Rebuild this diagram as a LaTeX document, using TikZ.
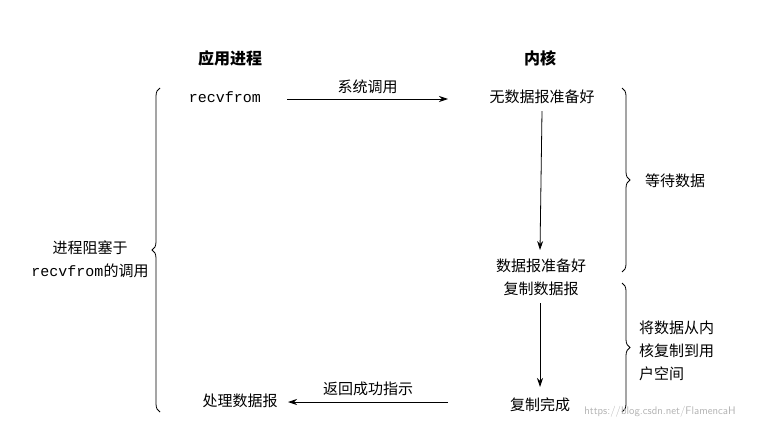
\documentclass[tikz,border=0pt]{standalone}
\usepackage{fontspec}
\newfontfamily\cjk{Noto Sans CJK SC}
\setmonofont{Liberation Mono}
\usetikzlibrary{decorations.pathreplacing,arrows.meta}
\begin{document}
\begin{tikzpicture}[x=1pt,y=-1pt,
  txt/.style={font=\cjk\fontsize{15}{23}\selectfont,inner sep=1pt},
  hd/.style={font=\cjk\bfseries\fontsize{16}{18}\selectfont},
  arr/.style={-{Stealth[length=9pt,width=6pt]},line width=0.8pt},
  brc/.style={decorate,decoration={brace,amplitude=8pt},line width=0.8pt}]
\useasboundingbox (0,0) rectangle (762,436);
\node[hd] (h1) at (230,58) {应用进程};
\node[hd] (h2) at (540,58) {内核};
\node[font=\ttfamily\fontsize{15}{17}\selectfont] (rf) at (225,97) {recvfrom};
\node[txt] (nd) at (542,97) {无数据报准备好};
\node[txt,align=center] (rd) at (541,277) {数据报准备好\\复制数据报};
\node[txt] (cd) at (540,405) {复制完成};
\node[txt] (pd) at (240,401) {处理数据报};
\coordinate (a1) at (287,99); \coordinate (a2) at (448,99);
\draw[arr] (a1) -- node[txt,above=4pt] (l1) {系统调用} (a2);
\coordinate (b1) at (448,402); \coordinate (b2) at (288,402);
\draw[arr] (b1) -- node[txt,above=5pt] (l2) {返回成功指示} (b2);
\draw[arr] (nd.south) ++(0,6) coordinate (v1) -- (540,250) coordinate (v2);
\draw[arr] (540,303) coordinate (w1) -- (540,387) coordinate (w2);
\coordinate (L1) at (160,88); \coordinate (L2) at (160,412);
\draw[brc] (L2) -- (L1);
\node[txt,align=center] (lb) at (90,259) {进程阻塞于\\{\ttfamily recvfrom}的调用};
\coordinate (R1) at (622,88); \coordinate (R2) at (622,272);
\draw[brc] (R1) -- (R2);
\node[txt] (rb1) at (675,181) {等待数据};
\coordinate (S1) at (622,283); \coordinate (S2) at (622,412);
\draw[brc] (S1) -- (S2);
\node[txt,align=left,anchor=west] (rb2) at (638,351) {将数据从内\\核复制到用\\户空间};
\node[font=\sffamily\fontsize{11}{12}\selectfont,text=gray!60] (wm) at (660,412) {https://blog.csdn.net/FlamencaH};
\end{tikzpicture}
\end{document}
